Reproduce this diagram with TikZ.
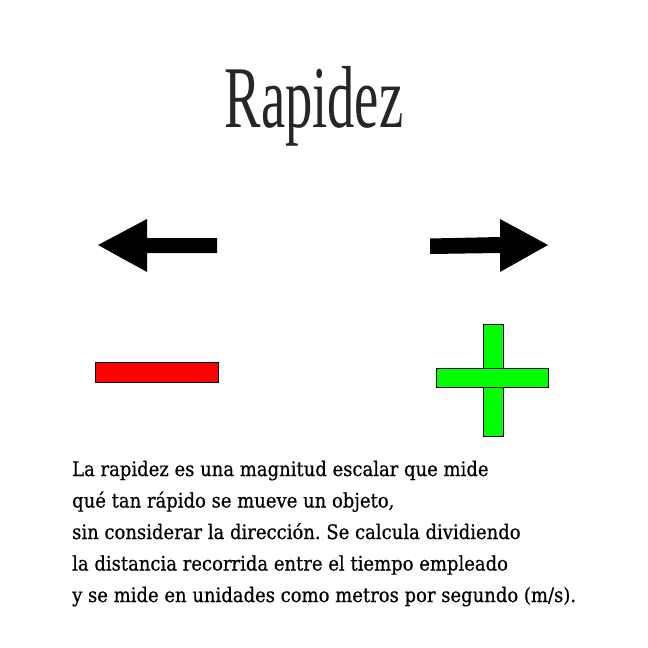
\documentclass[tikz,border=0pt]{standalone}
\usepackage{fontspec}
\setmainfont{Liberation Serif}
\newfontfamily\bodyfont[FakeBold=0.6]{DejaVu Serif}
\frenchspacing
\begin{document}
\begin{tikzpicture}[x=1pt,y=-1pt,
  bodytext/.style={anchor=base west,inner sep=0pt,xscale=0.9,font=\bodyfont\fontsize{20}{20}\selectfont},
  arrowshape/.style={fill=black,draw=none},
  signbox/.style={draw=black,line width=0.8pt}]
\useasboundingbox[fill=white] (0,0) rectangle (648,648);
% title
\node[inner sep=0pt,anchor=base,xscale=0.62,text=black!85] (title) at (314,127) {\fontsize{88}{88}\selectfont Rapidez};
% left arrow
\fill[arrowshape] (98,245) -- (147,219) -- (147,238) -- (217,238) -- (217,253) -- (147,253) -- (147,272) -- cycle;
% right arrow
\fill[arrowshape] (548,245) -- (500,219) -- (500,237) -- (430,238.5) -- (430,254) -- (500,253) -- (500,272) -- cycle;
% minus sign
\filldraw[signbox,fill=red] (95,362) rectangle (218,382);
% plus sign
\filldraw[signbox,fill=green] (483,324) rectangle (503,436);
\filldraw[signbox,fill=green] (436,368) rectangle (548,387);
\fill[green] (483.5,368.5) rectangle (502.5,386.5);
% text
\node[bodytext] (l1) at (72,476) {La rapidez es una magnitud escalar que mide};
\node[bodytext] (l2) at (72,507.5) {qué tan rápido se mueve un objeto,};
\node[bodytext] (l3) at (72,539) {sin considerar la dirección. Se calcula dividiendo};
\node[bodytext] (l4) at (72,570.5) {la distancia recorrida entre el tiempo empleado};
\node[bodytext] (l5) at (72,602) {y se mide en unidades como metros por segundo (m/s).};
\end{tikzpicture}
\end{document}
